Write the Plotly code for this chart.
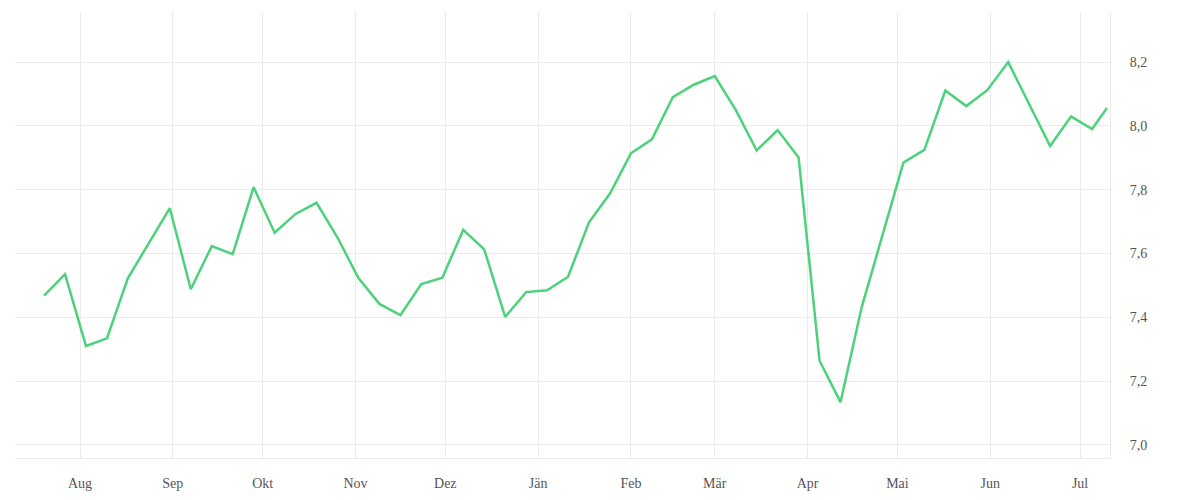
import pandas as pd
import plotly.graph_objects as go

start_date = "2024-07-20"
n_weekly = 51
last_date = "2025-07-10"
dates = list(pd.date_range(start_date, periods=n_weekly, freq="7D")) + [pd.Timestamp(last_date)]

values = [
    7.468, 7.535, 7.310, 7.334, 7.523, 7.632, 7.742, 7.488, 7.623, 7.598,
    7.808, 7.665, 7.724, 7.759, 7.650, 7.523, 7.442, 7.407, 7.504, 7.524,
    7.674, 7.613, 7.401, 7.479, 7.485, 7.527, 7.698, 7.788, 7.914, 7.958,
    8.090, 8.129, 8.156, 8.050, 7.923, 7.987, 7.901, 7.264, 7.134, 7.429,
    7.653, 7.885, 7.925, 8.111, 8.062, 8.112, 8.200, 8.066, 7.937, 8.030,
    7.990, 8.056,
]

month_ticks = ["2024-08-01", "2024-09-01", "2024-10-01", "2024-11-01", "2024-12-01",
               "2025-01-01", "2025-02-01", "2025-03-01", "2025-04-01", "2025-05-01",
               "2025-06-01", "2025-07-01"]
month_labels = ["Aug", "Sep", "Okt", "Nov", "Dez", "Jän", "Feb", "Mär", "Apr", "Mai", "Jun", "Jul"]
y_ticks = [7.0, 7.2, 7.4, 7.6, 7.8, 8.0, 8.2]

fig = go.Figure(go.Scatter(
    x=dates, y=values, mode="lines",
    line=dict(color="#4cd27a", width=2.5),
    hoverinfo="skip",
))

grid = "#ebebeb"
fig.update_layout(
    width=1192, height=492,
    margin=dict(l=7, r=90, t=4, b=42),
    paper_bgcolor="white", plot_bgcolor="white",
    showlegend=False,
    separators=",.",
    font=dict(family="Liberation Serif", size=14, color="#555555"),
    xaxis=dict(
        range=["2024-07-10 07:00", "2025-07-11"],
        tickvals=month_ticks, ticktext=month_labels,
        showgrid=True, gridcolor=grid, gridwidth=1,
        showline=True, linecolor=grid, linewidth=1,
        zeroline=False, ticks="", ticklabelstandoff=12,
        automargin=False,
    ),
    yaxis=dict(
        side="right",
        range=[6.959, 8.357],
        tickvals=y_ticks, tickformat=".1f",
        showgrid=True, gridcolor=grid, gridwidth=1,
        showline=True, linecolor=grid, linewidth=1,
        zeroline=False, ticks="", ticklabelstandoff=16,
        automargin=False,
    ),
)

fig.write_html("out.html")
